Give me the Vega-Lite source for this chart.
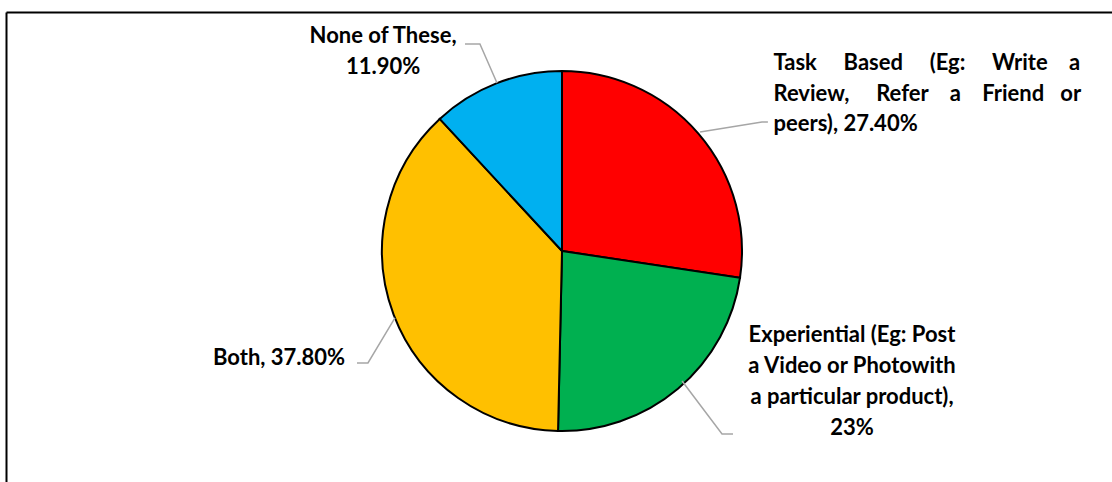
{
  "$schema": "https://vega.github.io/schema/vega-lite/v6.json",
  "width": 1112,
  "height": 482,
  "autosize": {"type": "fit", "contains": "padding"},
  "padding": {"left": 6, "top": 12, "right": 0, "bottom": 0},
  "background": "white",
  "config": {"view": {"stroke": null}},
  "datasets": {
    "slices": [
      {"category": "Task Based", "share": 27.4, "rank": 1},
      {"category": "Experiential", "share": 23.0, "rank": 2},
      {"category": "Both", "share": 37.8, "rank": 3},
      {"category": "None of These", "share": 11.9, "rank": 4}
    ],
    "labels": [
      {"category": "None of These", "label": "None of These,\n11.90%", "lx": -99.4, "ly": 119.4},
      {"category": "Task Based", "label": "\u00a0Task\u00a0\u00a0\u00a0\u00a0 Based\u00a0\u00a0\u00a0\u00a0 (Eg:\u00a0\u00a0\u00a0\u00a0 Write\u00a0\u00a0\u00a0 a\nReview,\u00a0\u00a0\u00a0\u00a0 Refer\u00a0\u00a0\u00a0 a\u00a0\u00a0\u00a0 Friend\u00a0\u00a0 or\npeers), 27.40%", "lx": 117.5, "ly": 104.4},
      {"category": "Experiential", "label": "Experiential (Eg: Post\na Video or Photowith\na particular product),\n23%", "lx": 161.1, "ly": -46.4},
      {"category": "Both", "label": "Both, 37.80%", "lx": -157.2, "ly": -59.2}
    ],
    "leaders": [
      {"category": "None of These", "pt": 1, "lx": -36.1, "ly": 93.3},
      {"category": "None of These", "pt": 2, "lx": -45.6, "ly": 115.0},
      {"category": "None of These", "pt": 3, "lx": -53.9, "ly": 115.0},
      {"category": "Task Based", "pt": 1, "lx": 76.7, "ly": 66.1},
      {"category": "Task Based", "pt": 2, "lx": 111.1, "ly": 71.7},
      {"category": "Task Based", "pt": 3, "lx": 114.4, "ly": 71.7},
      {"category": "Experiential", "pt": 1, "lx": 66.7, "ly": -72.2},
      {"category": "Experiential", "pt": 2, "lx": 88.9, "ly": -101.7},
      {"category": "Experiential", "pt": 3, "lx": 95.0, "ly": -101.7},
      {"category": "Both", "pt": 1, "lx": -92.8, "ly": -37.2},
      {"category": "Both", "pt": 2, "lx": -107.8, "ly": -62.2},
      {"category": "Both", "pt": 3, "lx": -113.9, "ly": -62.2}
    ]
  },
  "layer": [
    {
      "data": {"name": "slices"},
      "mark": {"type": "arc", "outerRadius": 180, "stroke": "black", "strokeWidth": 2},
      "encoding": {
        "theta": {"field": "share", "type": "quantitative", "stack": true},
        "order": {"field": "rank", "type": "quantitative", "sort": "ascending"},
        "x": {"datum": 0, "type": "quantitative", "scale": {"domain": [-308.89, 305.56], "nice": false, "zero": false}, "axis": {"orient": "top", "labels": false, "ticks": false, "grid": false, "title": null, "domain": true, "domainColor": "black", "domainWidth": 2, "minExtent": 0, "maxExtent": 0}},
        "y": {"datum": 0, "type": "quantitative", "scale": {"domain": [-128.33, 132.78], "nice": false, "zero": false}, "axis": {"orient": "left", "labels": false, "ticks": false, "grid": false, "title": null, "domain": true, "domainColor": "black", "domainWidth": 2, "minExtent": 0, "maxExtent": 0}},
        "color": {
          "field": "category",
          "type": "nominal",
          "scale": {"domain": ["Task Based", "Experiential", "Both", "None of These"], "range": ["#FF0000", "#00B050", "#FFC000", "#00B0F0"]},
          "legend": null
        }
      }
    },
    {
      "data": {"name": "leaders"},
      "mark": {"type": "line", "stroke": "#A6A6A6", "strokeWidth": 1.5},
      "encoding": {
        "x": {"field": "lx", "type": "quantitative"},
        "y": {"field": "ly", "type": "quantitative"},
        "detail": {"field": "category"},
        "order": {"field": "pt", "type": "quantitative"}
      }
    },
    {
      "data": {"name": "labels"},
      "transform": [{"filter": "datum.category !== 'Task Based'"}],
      "mark": {"type": "text", "font": "Lato", "fontWeight": "bold", "fontSize": 22, "align": "center", "baseline": "middle", "lineBreak": "\n", "lineHeight": 31, "color": "black"},
      "encoding": {
        "x": {"field": "lx", "type": "quantitative"},
        "y": {"field": "ly", "type": "quantitative"},
        "text": {"field": "label"}
      }
    },
    {
      "data": {"name": "labels"},
      "transform": [{"filter": "datum.category === 'Task Based'"}],
      "mark": {"type": "text", "font": "Lato", "fontWeight": "bold", "fontSize": 22, "align": "left", "baseline": "middle", "lineBreak": "\n", "lineHeight": 30.5, "color": "black"},
      "encoding": {
        "x": {"field": "lx", "type": "quantitative"},
        "y": {"field": "ly", "type": "quantitative"},
        "text": {"field": "label"}
      }
    }
  ]
}
